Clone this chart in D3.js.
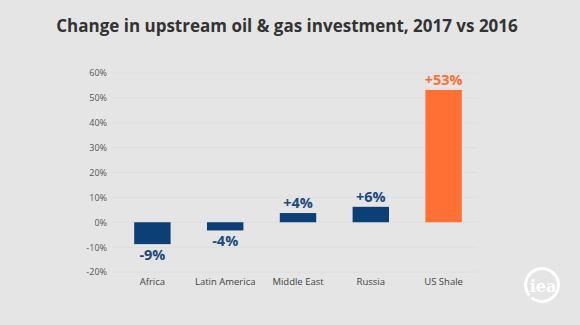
<!DOCTYPE html>
<html>
<head>
<meta charset="utf-8">
<script src="https://cdn.jsdelivr.net/npm/d3@7"></script>
<style>
  body { margin: 0; background: #e5e5e5; }
  svg { display: block; font-family: "Open Sans", "DejaVu Sans", sans-serif; }
</style>
</head>
<body>
<div id="chart"></div>
<script>
// data
const regions = ['Africa', 'Latin America', 'Middle East', 'Russia', 'US Shale'];
const change = [-8.8, -3.3, 3.7, 6.2, 53.2];
const changeLabels = ['-9%', '-4%', '+4%', '+6%', '+53%'];
const yTicks = [-20, -10, 0, 10, 20, 30, 40, 50, 60];

const width = 580, height = 325;
const navy = '#0d3f77', orange = '#ff7034';

const svg = d3.select('#chart').append('svg')
  .attr('width', width)
  .attr('height', height);

svg.append('rect').attr('width', width).attr('height', height).attr('fill', '#e5e5e5');

svg.append('text')
  .attr('x', 287).attr('y', 32)
  .attr('text-anchor', 'middle')
  .attr('font-size', 17)
  .attr('font-weight', 700)
  .attr('fill', '#333')
  .text('Change in upstream oil & gas investment, 2017 vs 2016');

const x = d3.scaleBand().domain(regions).range([116, 480]).paddingInner(0.5).paddingOuter(0.25);
const y = d3.scaleLinear().domain([-20, 60]).range([272, 73]);

// gridlines
svg.append('g')
  .selectAll('line')
  .data(yTicks)
  .join('line')
  .attr('x1', 112).attr('x2', 478)
  .attr('y1', d => y(d)).attr('y2', d => y(d))
  .attr('stroke', '#dedede')
  .attr('stroke-width', 1);

// y axis
const yAxis = svg.append('g')
  .attr('transform', 'translate(107,0)')
  .call(d3.axisLeft(y).tickValues(yTicks).tickSize(0).tickPadding(0).tickFormat(d => d + '%'));
yAxis.select('.domain').remove();
yAxis.selectAll('text')
  .attr('font-family', '"Open Sans", sans-serif')
  .attr('font-size', 9)
  .attr('fill', '#555');

// x axis labels
const xAxis = svg.append('g')
  .attr('transform', 'translate(0,278)')
  .call(d3.axisBottom(x).tickSize(0).tickPadding(0));
xAxis.select('.domain').remove();
xAxis.selectAll('text')
  .attr('font-family', '"Open Sans", sans-serif')
  .attr('font-size', 9.5)
  .attr('fill', '#444');

// bars
const items = regions.map((r, i) => ({ region: r, value: change[i], label: changeLabels[i] }));

svg.append('g')
  .selectAll('rect')
  .data(items)
  .join('rect')
  .attr('x', d => x(d.region))
  .attr('width', x.bandwidth())
  .attr('y', d => y(Math.max(0, d.value)))
  .attr('height', d => Math.abs(y(d.value) - y(0)))
  .attr('fill', d => d.region === 'US Shale' ? orange : navy);

// value labels
svg.append('g')
  .selectAll('text')
  .data(items)
  .join('text')
  .attr('x', d => x(d.region) + x.bandwidth() / 2)
  .attr('y', d => d.value >= 0 ? y(d.value) - 5 : y(d.value) + 16)
  .attr('text-anchor', 'middle')
  .attr('font-size', 14.5)
  .attr('font-weight', 700)
  .attr('fill', d => d.region === 'US Shale' ? orange : '#1a4a80')
  .text(d => d.label);

// iea logo
const logo = svg.append('g').attr('transform', 'translate(542,285)');
logo.append('path')
  .attr('d', d3.arc()({ innerRadius: 15, outerRadius: 18, startAngle: -Math.PI * 0.72, endAngle: Math.PI * 1.22 }))
  .attr('fill', '#fff');
logo.append('text')
  .attr('x', 1).attr('y', 7)
  .attr('text-anchor', 'middle')
  .attr('font-family', '"DejaVu Serif", serif')
  .attr('font-weight', 700)
  .attr('font-size', 16)
  .attr('fill', '#fff')
  .text('iea');
</script>
</body>
</html>
